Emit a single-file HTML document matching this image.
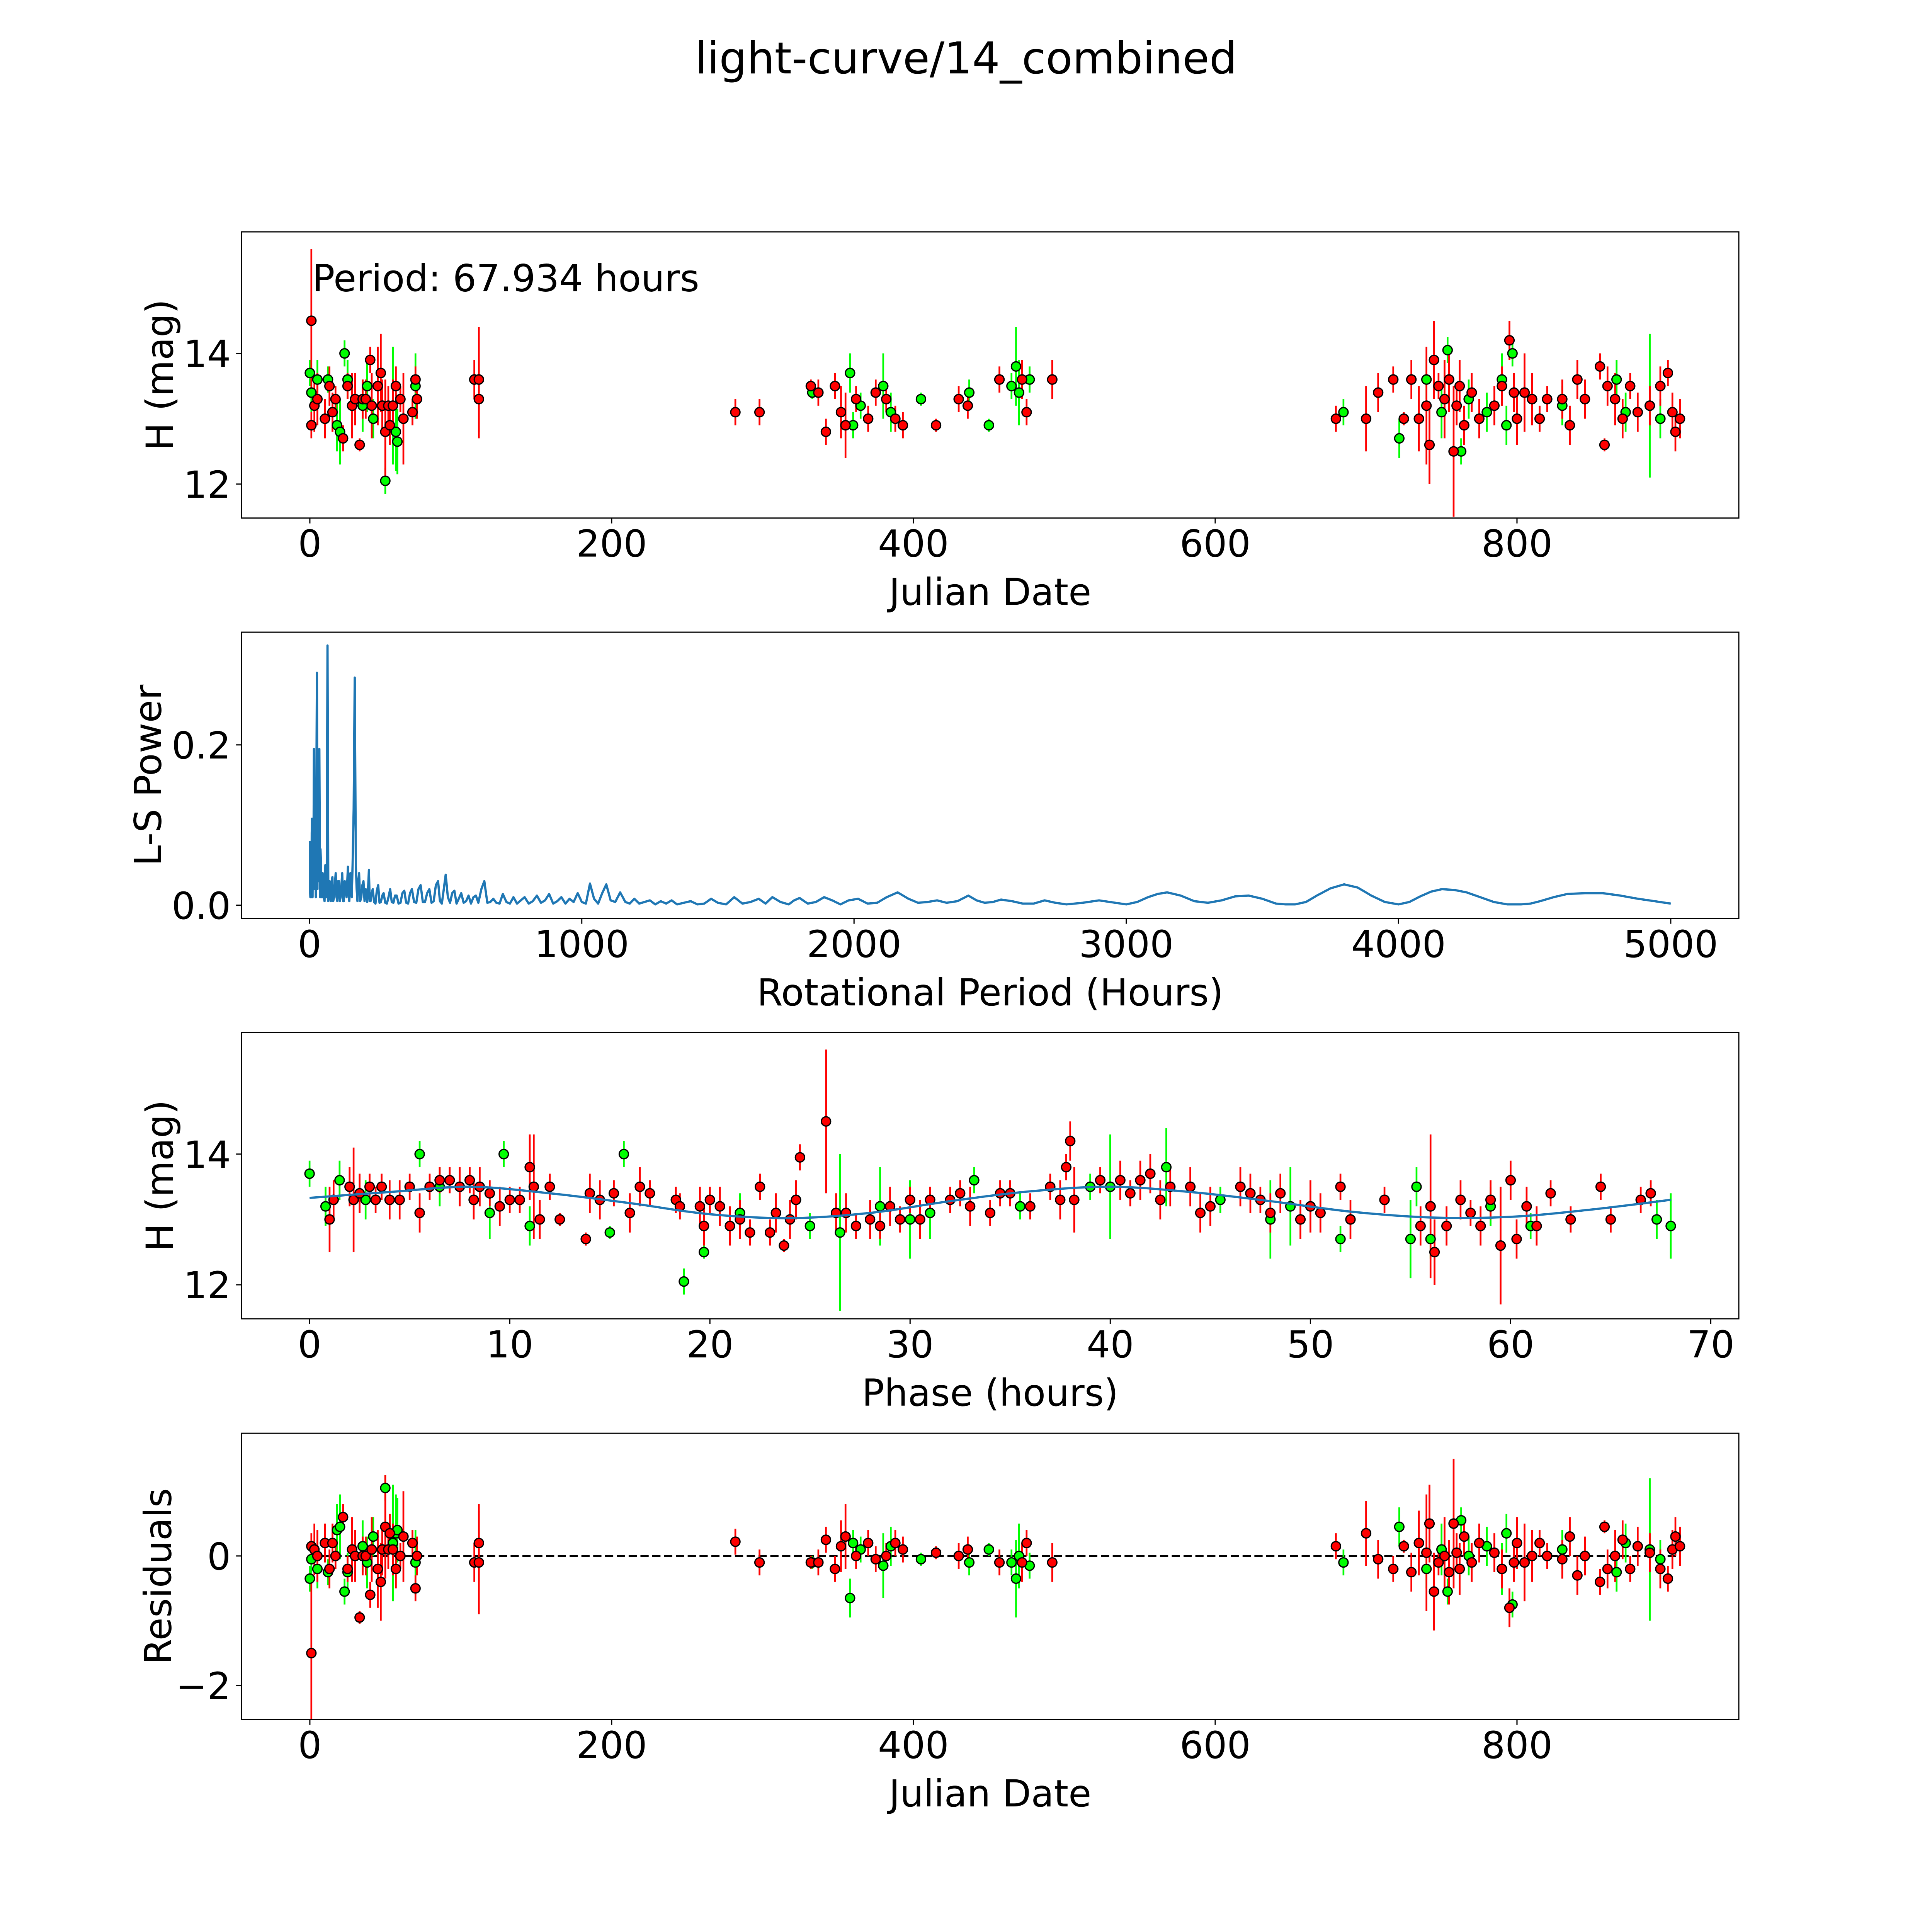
<!DOCTYPE html>
<html><head><meta charset="utf-8"><style>
html,body{margin:0;padding:0;background:#fff;width:100%;height:100%;overflow:hidden}
svg{display:block;position:fixed;left:0;top:0;width:100vw;height:100vh}
text{font-family:"DejaVu Sans","Liberation Sans",sans-serif;fill:#000}
</style></head><body>
<svg id="fig" viewBox="0 0 5400 5400" preserveAspectRatio="none" xmlns="http://www.w3.org/2000/svg" overflow="hidden">
<rect width="5400" height="5400" fill="#fff"/>
<text x="2700" y="205" font-size="122" text-anchor="middle">light-curve/14_combined</text>
<g id="p1"></g>
<g id="p2"></g>
<g id="p3"></g>
<g id="p4"></g>
</svg>
<script>
// ---- Panel 1 / 4 data (Julian date) ----
const jdRed=[1,1,3,5,10,13,15,17,22,25,28,30,33,35,37,40,41,45,47,48,50,52,53,55,57,60,62,70,71,68,109,112,112,
282,298,332,337,342,348,352,355,362,370,375,382,388,393,415,430,436,457,472,475,492,
680,700,708,718,725,730,735,740,742,745,748,752,755,758,760,762,765,770,775,785,790,795,798,800,805,810,815,820,830,835,840,845,855,858,860,865,870,875,880,888,895,900,903,905,908];
const magRed=[14.5,12.9,13.2,13.3,13.0,13.5,13.1,13.3,12.7,13.5,13.2,13.3,12.6,13.3,13.3,13.9,13.2,13.5,13.7,13.2,12.8,13.2,12.9,13.2,13.5,13.3,13.0,13.6,13.3,13.1,13.6,13.6,13.3,
13.1,13.1,13.5,13.4,12.8,13.5,13.1,12.9,13.3,13.0,13.4,13.3,13.0,12.9,12.9,13.3,13.2,13.6,13.6,13.1,13.6,
13.0,13.0,13.4,13.6,13.0,13.6,13.0,13.2,12.6,13.9,13.5,13.3,13.6,12.5,13.2,13.5,12.9,13.4,13.0,13.2,13.5,14.2,13.4,13.0,13.4,13.3,13.0,13.3,13.3,12.9,13.6,13.3,13.8,12.6,13.5,13.3,13.0,13.5,13.1,13.2,13.5,13.7,13.1,12.8,13.0];
const errRed=[1.1,0.2,0.4,0.4,0.3,0.3,0.3,0.2,0.2,0.2,0.5,0.4,0.1,0.3,0.3,0.2,0.5,0.6,0.6,0.4,0.8,0.3,0.3,0.4,0.3,0.2,0.7,0.2,0.3,0.2,0.3,0.8,0.6,
0.2,0.2,0.1,0.2,0.2,0.2,0.4,0.5,0.2,0.2,0.2,0.2,0.2,0.2,0.1,0.2,0.2,0.2,0.3,0.2,0.3,
0.2,0.5,0.3,0.2,0.1,0.3,0.5,0.9,0.6,0.6,0.2,0.6,0.5,1.0,0.3,0.4,0.3,0.3,0.3,0.3,0.3,0.3,0.3,0.4,0.6,0.4,0.2,0.2,0.3,0.3,0.3,0.3,0.2,0.1,0.3,0.4,0.3,0.2,0.3,0.3,0.3,0.2,0.3,0.3,0.3];
const resRed=[-1.5,0.15,0.1,0.0,0.2,-0.2,0.2,0.0,0.6,-0.2,0.1,0.0,-0.95,0.0,0.0,-0.6,0.1,-0.2,-0.4,0.1,0.45,0.1,0.35,0.1,-0.2,0.0,0.3,-0.5,0.0,0.2,-0.1,-0.1,0.2,
0.22,-0.1,-0.1,-0.1,0.25,-0.2,0.15,0.3,0.0,0.2,-0.05,0.0,0.2,0.1,0.05,0.0,0.1,-0.1,-0.1,0.2,-0.1,
0.15,0.35,-0.05,-0.2,0.15,-0.25,0.2,0.05,0.5,-0.55,-0.1,0.0,-0.25,0.5,0.05,-0.2,0.3,-0.1,0.2,0.05,-0.2,-0.8,-0.1,0.2,-0.1,0.0,0.2,0.0,-0.05,0.3,-0.3,0.0,-0.4,0.45,-0.2,0.0,0.25,-0.2,0.15,0.05,-0.2,-0.35,0.1,0.3,0.15];
const jdGreen=[0,1,5,12,18,20,23,25,35,38,42,48,50,55,57,58,70,
333,358,360,365,380,385,405,437,450,465,468,470,477,
685,722,740,750,754,763,768,780,790,793,797,830,866,872,888,895];
const magGreen=[13.7,13.4,13.6,13.6,12.9,12.8,14.0,13.6,13.2,13.5,13.0,13.2,12.05,13.2,12.8,12.65,13.5,
13.4,13.7,12.9,13.2,13.5,13.1,13.3,13.4,12.9,13.5,13.8,13.4,13.6,
13.1,12.7,13.6,13.1,14.05,12.5,13.3,13.1,13.6,12.9,14.0,13.2,13.6,13.1,13.2,13.0];
const errGreen=[0.2,0.3,0.3,0.2,0.4,0.5,0.2,0.3,0.4,0.4,0.3,0.4,0.2,0.9,0.6,0.5,0.5,
0.1,0.3,0.2,0.2,0.5,0.3,0.1,0.2,0.1,0.2,0.6,0.5,0.2,
0.2,0.3,0.3,0.4,0.2,0.2,0.3,0.3,0.4,0.3,0.2,0.3,0.3,0.3,1.1,0.3];
const resGreen=[-0.35,-0.05,-0.2,-0.25,0.4,0.45,-0.55,-0.25,0.15,-0.1,0.3,0.1,1.05,0.2,0.35,0.4,-0.1,
-0.1,-0.65,0.2,0.1,-0.15,0.15,-0.05,-0.1,0.1,-0.1,-0.35,0.0,-0.15,
-0.1,0.45,-0.2,0.1,-0.55,0.55,0.0,0.15,-0.2,0.35,-0.75,0.1,-0.25,0.2,0.1,-0.05];
// ---- Panel 2 data (Lomb-Scargle periodogram): dense short-period part ----
const lsPeriod=[1,2,3,4,5,6,7,8,9,10,11,12,13,14,16,17,19,20,22,23,25,27,29,30,32,34,36,38,39,40,42,44,46,48,50,52,55,58,60,63,66,69,71,73,76,78,81,84,87,90,93,96,99,102,105,108,111,114,117,120,123,126,129,132,136,141,146,150,155,158,162,166,170,173,176,179,182,186,190,194,198,202,206,209,212,215,218,221,224,228,232,237,242,247,252,257,262,267,272,278,284,290,296,302,308,314,320,327,334,341,348,355,362,369,376,384,392,400,408,416,424,432,440,448,456,464,472,479,486,493,500,508,516,524,532,540,548,557,566,575,584,593,602,611,620,631,642,653,664,675,686,698,710,723,736,749,762,776,790,805,820,835,850,865,880,895,910,925,940,955,970,985,1000,1015,1030,1045,1060,1075,1090,1106,1123,1141,1160,1176,1193,1211,1230,1250,1270,1290,1310,1330,1350,1375,1400,1425,1450,1475,1500,1530,1560,1590,1620,1650,1675,1700,1730,1760,1780,1800,1830,1860,1890,1920,1950,1980,2015,2050,2085,2120,2160,2200,2235,2270,2305,2340,2380,2420,2450,2480,2510,2540,2580,2620,2660,2700,2740,2780,2840,2900,2950];
const lsPower=[0.08,0.02,0.01,0.05,0.06,0.01,0.02,0.09,0.108,0.03,0.01,0.06,0.1,0.02,0.195,0.04,0.02,0.12,0.07,0.01,0.15,0.29,0.02,0.1,0.19,0.03,0.195,0.05,0.01,0.07,0.05,0.01,0.01,0.04,0.03,0.01,0.005,0.05,0.04,0.01,0.324,0.005,0.02,0.03,0.01,0.005,0.03,0.035,0.005,0.01,0.025,0.04,0.01,0.005,0.03,0.03,0.005,0.01,0.025,0.04,0.005,0.005,0.03,0.02,0.01,0.048,0.005,0.04,0.01,0.05,0.12,0.284,0.05,0.02,0.005,0.03,0.04,0.005,0.01,0.025,0.03,0.005,0.02,0.01,0.004,0.02,0.044,0.005,0.005,0.015,0.02,0.004,0.002,0.018,0.025,0.003,0.004,0.012,0.015,0.003,0.002,0.01,0.02,0.004,0.003,0.012,0.012,0.002,0.003,0.015,0.018,0.003,0.002,0.015,0.02,0.004,0.003,0.02,0.025,0.004,0.004,0.015,0.02,0.003,0.005,0.025,0.03,0.005,0.002,0.02,0.038,0.01,0.003,0.015,0.018,0.002,0.008,0.015,0.003,0.005,0.012,0.002,0.01,0.012,0.003,0.02,0.03,0.003,0.004,0.008,0.003,0.002,0.014,0.004,0.002,0.01,0.002,0.006,0.01,0.002,0.005,0.012,0.003,0.006,0.014,0.002,0.005,0.01,0.002,0.008,0.004,0.015,0.004,0.002,0.027,0.008,0.002,0.015,0.026,0.006,0.004,0.016,0.004,0.002,0.008,0.002,0.004,0.006,0.001,0.005,0.002,0.006,0.001,0.003,0.005,0.001,0.002,0.008,0.003,0.001,0.01,0.002,0.004,0.008,0.002,0.01,0.004,0.001,0.006,0.009,0.002,0.004,0.01,0.006,0.001,0.006,0.008,0.002,0.003,0.01,0.016,0.008,0.003,0.004,0.006,0.003,0.005,0.012,0.006,0.003,0.004,0.007,0.005,0.002,0.002,0.006,0.003,0.001,0.003,0.006];
// long-period smooth tail
const lsPeriodTail=[3000,3040,3080,3115,3150,3200,3250,3300,3350,3400,3450,3500,3550,3585,3620,3660,3700,3750,3800,3850,3900,3950,4000,4040,4080,4120,4160,4205,4250,4300,4350,4400,4450,4485,4520,4570,4620,4685,4750,4815,4880,4940,5000];
const lsPowerTail=[0.001,0.004,0.01,0.014,0.016,0.012,0.005,0.003,0.006,0.011,0.012,0.008,0.002,0.001,0.001,0.004,0.012,0.021,0.026,0.022,0.012,0.004,0.001,0.004,0.011,0.017,0.02,0.019,0.016,0.01,0.004,0.001,0.001,0.002,0.005,0.01,0.014,0.015,0.015,0.012,0.008,0.005,0.002];
// ---- Panel 3 data (phase folded, hours) ----
const phRed=[1,1.2,2,2.2,2.5,3,3.3,3.6,4,4.5,5,5.5,6,6.5,7,7.5,8,8.2,8.5,9,9.5,10,10.5,11,11.2,11.5,12,12.5,13.8,14,14.5,15.2,16,16.5,17,18.3,18.5,19.5,19.7,20,20.5,21,21.5,22,22.5,23,23.3,23.7,24,24.3,24.5,25.8,26.3,26.8,27.3,28,28.5,29,29.5,30,30.5,31,32,32.5,33,34,34.5,35,36,37,37.5,37.8,38,38.2,39.5,40.5,41,41.5,42,42.5,43,44,44.5,45,46.5,47,47.5,48,48.5,49.5,50,50.5,51.5,52,53.7,55.5,56,56.2,56.8,57.5,58,58.5,59,59.5,60,60.3,60.8,61.3,62,63,64.5,65,66.5,67];
const phMagRed=[13.0,13.3,13.5,13.3,13.4,13.5,13.3,13.5,13.3,13.3,13.5,13.1,13.5,13.6,13.6,13.5,13.6,13.3,13.5,13.4,13.2,13.3,13.3,13.8,13.5,13.0,13.5,13.0,12.7,13.4,13.3,13.4,13.1,13.5,13.4,13.3,13.2,13.2,12.9,13.3,13.2,12.9,13.0,12.8,13.5,12.8,13.1,12.6,13.0,13.3,13.95,14.5,13.1,13.1,12.9,13.0,12.9,13.2,13.0,13.3,13.0,13.3,13.3,13.4,13.2,13.1,13.4,13.4,13.2,13.5,13.3,13.8,14.2,13.3,13.6,13.6,13.4,13.6,13.7,13.3,13.5,13.5,13.1,13.2,13.5,13.4,13.3,13.1,13.4,13.0,13.2,13.1,13.5,13.0,13.3,12.9,13.2,12.5,12.9,13.3,13.1,12.9,13.3,12.6,13.6,12.7,13.2,12.9,13.4,13.0,13.5,13.0,13.3,13.4];
const phErrRed=[0.5,0.3,0.3,0.8,0.3,0.2,0.2,0.2,0.3,0.3,0.2,0.3,0.2,0.2,0.2,0.3,0.2,0.3,0.3,0.2,0.3,0.2,0.2,0.5,0.8,0.3,0.2,0.1,0.1,0.3,0.3,0.2,0.3,0.3,0.2,0.2,0.2,0.3,0.3,0.2,0.3,0.3,0.3,0.2,0.2,0.2,0.3,0.1,0.3,0.3,0.2,1.1,0.3,0.3,0.2,0.3,0.2,0.3,0.2,0.2,0.3,0.2,0.2,0.2,0.3,0.2,0.2,0.2,0.2,0.2,0.3,0.2,0.3,0.5,0.2,0.3,0.2,0.3,0.3,0.3,0.3,0.3,0.3,0.3,0.3,0.3,0.2,0.3,0.3,0.3,0.4,0.3,0.2,0.3,0.2,0.3,1.1,0.5,0.3,0.3,0.2,0.3,0.3,0.9,0.3,0.3,0.3,0.3,0.2,0.2,0.2,0.2,0.2,0.2];
const phGreen=[0,0.8,1.5,2.8,5.5,6.5,9,9.7,11,15,15.7,18.7,19.7,21.5,25,26.5,28.5,30,31,33.2,35.5,39,40,42.8,45.5,48,49,51.5,55,55.3,56,59,61,67.3,68];
const phMagGreen=[13.7,13.2,13.6,13.3,14.0,13.5,13.1,14.0,12.9,12.8,14.0,12.05,12.5,13.1,12.9,12.8,13.2,13.0,13.1,13.6,13.2,13.5,13.5,13.8,13.3,13.0,13.2,12.7,12.7,13.5,12.7,13.2,12.9,13.0,12.9];
const phErrGreen=[0.2,0.3,0.3,0.3,0.2,0.3,0.4,0.2,0.3,0.1,0.2,0.2,0.1,0.3,0.2,1.2,0.6,0.6,0.4,0.2,0.2,0.2,0.8,0.6,0.2,0.6,0.6,0.2,0.6,0.3,0.3,0.3,0.2,0.3,0.5];
const modelPhase=[0,4,8,12,16,20,24,28,32,36,40,44,48,52,56,60,64,68];
const modelMag=[13.33,13.42,13.5,13.4,13.25,13.08,13.02,13.1,13.28,13.43,13.5,13.42,13.28,13.12,13.03,13.04,13.15,13.3];
// ---- tick labels ----
const jdTicks=[0,200,400,600,800];
const magTicks=[12,14];
const perTicks=[0,1000,2000,3000,4000,5000];
const powTicks=[0.0,0.2];
const powTickLabels=["0.0","0.2"];
const phTicks=[0,10,20,30,40,50,60,70];
const resTicks=[-2,0];
const resTickLabels=["\u22122","0"];

const NS="http://www.w3.org/2000/svg";
const L=675,R=4860,H=800,TOPS=[648,1767,2886,4006];
function mk(parent,tag,attrs){const e=document.createElementNS(NS,tag);for(const k in attrs)e.setAttribute(k,attrs[k]);parent.appendChild(e);return e;}
function lin(d0,d1,r0,r1){return v=>r0+(v-d0)/(d1-d0)*(r1-r0);}

function axes(g,top,xs,ys,xt,xtl,yt,ytl,xlabel,ylabel,ylabX){
  const bot=top+H;
  const fr=mk(g,'rect',{x:L,y:top,width:R-L,height:H,fill:'none',stroke:'#000','stroke-width':3.3});
  
  
  xt.forEach((v,i)=>{const x=xs(v);
    const t=mk(g,'line',{x1:x,x2:x,y1:bot,y2:bot+15,stroke:'#000','stroke-width':3.3});
    
    
    const tx=mk(g,'text',{x:x,y:bot+108,'font-size':104,'text-anchor':'middle'});tx.textContent=xtl[i];
    
    
  });
  yt.forEach((v,i)=>{const y=ys(v);
    const t=mk(g,'line',{x1:L-15,x2:L,y1:y,y2:y,stroke:'#000','stroke-width':3.3});
    
    
    const tx=mk(g,'text',{x:L-30,y:y+38,'font-size':104,'text-anchor':'end'});tx.textContent=ytl[i];
    
    
  });
  const xl=mk(g,'text',{x:(L+R)/2,y:bot+243,'font-size':104,'text-anchor':'middle'});xl.textContent=xlabel;
  
  
  const cy=top+H/2;
  const yl=mk(g,'text',{x:ylabX,y:cy+38,'font-size':104,'text-anchor':'middle',transform:`rotate(-90 ${ylabX} ${cy})`});yl.textContent=ylabel;
  
  
}
function points(g,xs,ys,X,Y,E,col,name){
  const eg=mk(g,'g',{});
  
  
  X.forEach((x,i)=>{const l=mk(eg,'line',{x1:xs(x),x2:xs(x),y1:ys(Y[i]-E[i]),y2:ys(Y[i]+E[i]),stroke:col,'stroke-width':5});
    
    });
  return ()=>{const mg=mk(g,'g',{});
    
    
    X.forEach((x,i)=>{const c=mk(mg,'circle',{cx:xs(x),cy:ys(Y[i]),r:13,fill:col,stroke:'#000','stroke-width':3.5});
      
      });};
}
function clip(g,top,id){const s=document.getElementById('fig');const cp=mk(s,'clipPath',{id:id});mk(cp,'rect',{x:L,y:top,width:R-L,height:H});return mk(g,'g',{'clip-path':`url(#${id})`});}

// Panel 1
(function(){const g=document.getElementById('p1'),top=TOPS[0];
 const xs=lin(-45.3,947,L,R),ys=lin(15.86,11.48,top,top+H);
 const c=clip(g,top,'c1');
 const dg=points(c,xs,ys,jdGreen,magGreen,errGreen,'#00ff00','green-series');
 const dr=points(c,xs,ys,jdRed,magRed,errRed,'#ff0000','red-series');dg();dr();
 axes(g,top,xs,ys,jdTicks,jdTicks.map(String),magTicks,magTicks.map(String),'Julian Date','H (mag)',445);
 const t=mk(g,'text',{x:873,y:814,'font-size':104});t.textContent='Period: 67.934 hours';
 
 
})();
// Panel 2
(function(){const g=document.getElementById('p2'),top=TOPS[1];
 const xs=lin(-250,5250,L,R),ys=lin(0.3406,-0.0165,top,top+H);
 const c=clip(g,top,'c2');
 const n=Math.min(lsPeriod.length,lsPower.length);
 let d='';
 for(let i=0;i<n;i++){d+=(i?'L':'M')+xs(lsPeriod[i]).toFixed(1)+','+ys(lsPower[i]).toFixed(1);}
 const m=Math.min(lsPeriodTail.length,lsPowerTail.length);
 for(let i=0;i<m;i++){d+='L'+xs(lsPeriodTail[i]).toFixed(1)+','+ys(lsPowerTail[i]).toFixed(1);}
 const pl=mk(c,'path',{d:d,fill:'none',stroke:'#1f77b4','stroke-width':6.2,'stroke-linejoin':'round'});
 
 
 axes(g,top,xs,ys,perTicks,perTicks.map(String),powTicks,powTickLabels,'Rotational Period (Hours)','L-S Power',412);
})();
// Panel 3
(function(){const g=document.getElementById('p3'),top=TOPS[2];
 const xs=lin(-3.4,71.4,L,R),ys=lin(15.86,11.48,top,top+H);
 const c=clip(g,top,'c3');
 const dg=points(c,xs,ys,phGreen,phMagGreen,phErrGreen,'#00ff00','green-series');
 const dr=points(c,xs,ys,phRed,phMagRed,phErrRed,'#ff0000','red-series');
 dg();dr();
 const P=modelPhase.map((p,i)=>[xs(p),ys(modelMag[i])]);let d='M'+P[0][0]+','+P[0][1];
 for(let i=0;i<P.length-1;i++){const p0=P[Math.max(0,i-1)],p1=P[i],p2=P[i+1],p3=P[Math.min(P.length-1,i+2)];
  d+=`C${p1[0]+(p2[0]-p0[0])/6},${p1[1]+(p2[1]-p0[1])/6} ${p2[0]-(p3[0]-p1[0])/6},${p2[1]-(p3[1]-p1[1])/6} ${p2[0]},${p2[1]}`;}
 const m=mk(c,'path',{d:d,fill:'none',stroke:'#1f77b4','stroke-width':6.2});
 
 
 axes(g,top,xs,ys,phTicks,phTicks.map(String),magTicks,magTicks.map(String),'Phase (hours)','H (mag)',445);
})();
// Panel 4
(function(){const g=document.getElementById('p4'),top=TOPS[3];
 const xs=lin(-45.3,947,L,R),ys=lin(1.895,-2.525,top,top+H);
 const c=clip(g,top,'c4');
 const z=mk(c,'line',{x1:xs(0),x2:xs(908),y1:ys(0),y2:ys(0),stroke:'#000','stroke-width':5,'stroke-dasharray':'23 10'});
 
 
 const dg=points(c,xs,ys,jdGreen,resGreen,errGreen,'#00ff00','green-series');
 const dr=points(c,xs,ys,jdRed,resRed,errRed,'#ff0000','red-series');dg();dr();
 axes(g,top,xs,ys,jdTicks,jdTicks.map(String),resTicks,resTickLabels,'Julian Date','Residuals',440);
})();
</script>
</body></html>
